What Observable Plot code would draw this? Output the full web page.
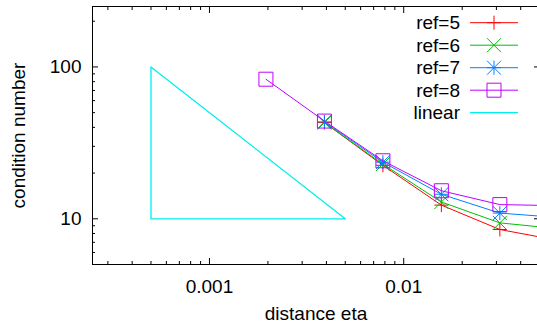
<!DOCTYPE html>
<html>
<head>
<meta charset="utf-8">
<script src="https://cdn.jsdelivr.net/npm/d3@7"></script>
<script src="https://cdn.jsdelivr.net/npm/@observablehq/plot@0.6"></script>
<style>
  html, body { margin: 0; padding: 0; background: white; overflow: hidden; }
  #wrap { position: relative; width: 537px; height: 328px; overflow: hidden; }
</style>
</head>
<body>
<div id="wrap"></div>
<script>
// ---- data ----
const eta = [0.001953, 0.003906, 0.007813, 0.015625, 0.03125, 0.0625];
const ref5 = [null, 43.0, 22.5, 12.3, 8.5, 7.2];
const ref6 = [null, 43.0, 22.9, 12.9, 9.4, 8.6];
const ref7 = [null, 43.5, 23.6, 14.5, 10.9, 10.2];
const ref8 = [83.0, 44.0, 24.1, 15.3, 12.4, 12.2];
const linearEta = [0.0005, 0.0005, 0.005, 0.0005];
const linearCond = [100, 10, 10, 100];

const seriesNames = ["ref=5", "ref=6", "ref=7", "ref=8", "linear"];
const seriesColors = ["#ff0000", "#00c000", "#0080ff", "#c000ff", "#00eeee"];

const xMajor = [0.001, 0.01];
const xMajorLabels = ["0.001", "0.01"];
const xMinor = [0.0003, 0.0004, 0.0005, 0.0006, 0.0007, 0.0008, 0.0009,
                0.002, 0.003, 0.004, 0.005, 0.006, 0.007, 0.008, 0.009,
                0.02, 0.03, 0.04, 0.05];
const yMajor = [10, 100];
const yMajorLabels = ["10", "100"];
const yMinor = [5, 6, 7, 8, 9, 20, 30, 40, 50, 60, 70, 80, 90, 200];

const xTitle = "distance eta";
const yTitle = "condition number";

// ---- gnuplot-like point symbols ----
const symPlus = {draw(c, s) { const r = Math.sqrt(s / Math.PI); c.moveTo(-r, 0); c.lineTo(r, 0); c.moveTo(0, -r); c.lineTo(0, r); }};
const symTimes = {draw(c, s) { const r = Math.sqrt(s / Math.PI); c.moveTo(-r, -r); c.lineTo(r, r); c.moveTo(-r, r); c.lineTo(r, -r); }};
const symStar = {draw(c, s) { symPlus.draw(c, s); symTimes.draw(c, s); }};
const symBox = {draw(c, s) { const r = Math.sqrt(s / Math.PI); c.rect(-r, -r, 2 * r, 2 * r); }};
const symbols = [symPlus, symTimes, symStar, symBox, null];

const refSeries = [ref5, ref6, ref7, ref8];
const rows = refSeries.map(vals => eta.map((x, i) => ({x, y: vals[i]})));
const linearRows = linearEta.map((x, i) => ({x, y: linearCond[i]}));

const font = "'Liberation Sans', Arial, Helvetica, sans-serif";
const fontSize = "19px";
const blank = () => "";

const marks = [
  Plot.frame({stroke: "#000", strokeWidth: 1}),
  // bottom axis
  Plot.axisX({ticks: xMajor, tickSize: -6, tickPadding: 21, label: null, stroke: "#000",
              tickFormat: d => xMajorLabels[xMajor.indexOf(d)]}),
  Plot.axisX({ticks: xMinor, tickSize: -3, tickPadding: 0, label: null, stroke: "#000", tickFormat: blank}),
  // top mirror
  Plot.axisX({anchor: "top", ticks: xMajor, tickSize: -6, label: null, stroke: "#000", tickFormat: blank}),
  Plot.axisX({anchor: "top", ticks: xMinor, tickSize: -3, label: null, stroke: "#000", tickFormat: blank}),
  // left axis
  Plot.axisY({ticks: yMajor, tickSize: -6, tickPadding: 17, label: null, stroke: "#000",
              tickFormat: d => yMajorLabels[yMajor.indexOf(d)]}),
  Plot.axisY({ticks: yMinor, tickSize: -3, label: null, stroke: "#000", tickFormat: blank}),
  // right mirror
  Plot.axisY({anchor: "right", ticks: yMajor, tickSize: -6, label: null, stroke: "#000", tickFormat: blank}),
  Plot.axisY({anchor: "right", ticks: yMinor, tickSize: -3, label: null, stroke: "#000", tickFormat: blank}),
  // titles
  Plot.text([xTitle], {text: d => d, frameAnchor: "bottom", textAnchor: "middle", dy: 55, fill: "#000"}),
  Plot.text([yTitle], {text: d => d, frameAnchor: "left", textAnchor: "middle", dx: -74, rotate: -90, fill: "#000"})
];

rows.forEach((r, k) => {
  marks.push(Plot.line(r, {x: "x", y: "y", stroke: seriesColors[k], strokeWidth: 1, clip: true}));
  marks.push(Plot.dot(r, {x: "x", y: "y", symbol: symbols[k], r: 7, stroke: seriesColors[k], fill: "none", strokeWidth: 1, clip: true}));
});
marks.push(Plot.line(linearRows, {x: "x", y: "y", stroke: seriesColors[4], strokeWidth: 1.3, clip: true}));

const chart = Plot.plot({
  width: 539,
  height: 328,
  marginLeft: 92,
  marginRight: 0,
  marginTop: 6,
  marginBottom: 64,
  style: {fontFamily: font, fontSize: fontSize, background: "white", color: "#000", maxWidth: "none", overflow: "hidden"},
  x: {type: "log", domain: [0.00025, 0.05]},
  y: {type: "log", domain: [5, 250]},
  marks
});
const wrap = document.getElementById("wrap");
wrap.appendChild(chart);

// ---- key (inside the plot area, top right, gnuplot style) ----
const key = d3.select(wrap).append("svg")
  .attr("width", 537).attr("height", 328)
  .style("position", "absolute").style("left", "0px").style("top", "0px")
  .style("font-family", font).style("font-size", fontSize);
seriesNames.forEach((name, i) => {
  const cy = 22.7 + i * 22.5;
  const g = key.append("g");
  g.append("text").attr("x", 460).attr("y", cy).attr("dy", "0.35em")
    .attr("text-anchor", "end").attr("fill", "#000").text(name);
  g.append("line").attr("x1", 470).attr("x2", 518).attr("y1", cy).attr("y2", cy)
    .attr("stroke", seriesColors[i]).attr("stroke-width", i === 4 ? 1.3 : 1);
  if (symbols[i]) {
    g.append("path").attr("transform", `translate(494,${cy})`)
      .attr("d", d3.symbol(symbols[i], Math.PI * 49)())
      .attr("fill", "none").attr("stroke", seriesColors[i]).attr("stroke-width", 1);
  }
});
</script>
</body>
</html>
